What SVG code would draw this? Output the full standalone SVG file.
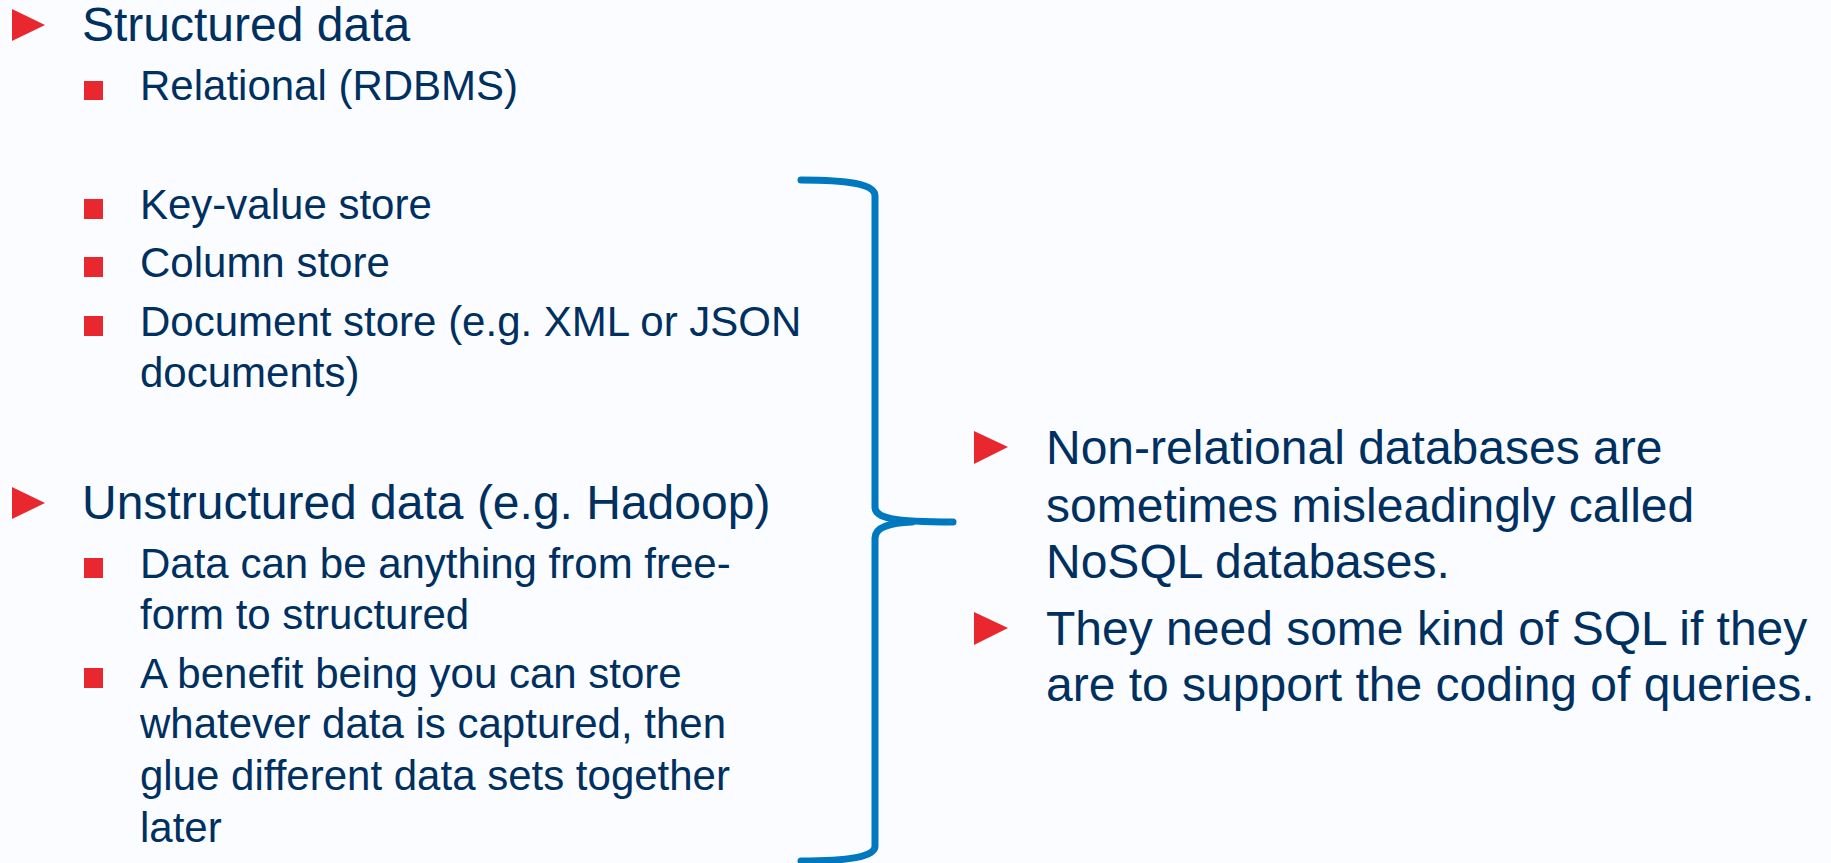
<svg xmlns="http://www.w3.org/2000/svg" width="1831" height="863" viewBox="0 0 1831 863">
  <defs>
    <style>
      .t1 { font-family: "Liberation Sans", Arial, sans-serif; font-size: 48px; fill: #00305F; }
      .t2 { font-family: "Liberation Sans", Arial, sans-serif; font-size: 42px; fill: #00305F; }
      .tri { fill: #E8282E; }
      .sq { fill: #E8282E; }
      .brace { fill: none; stroke: #0078BF; stroke-width: 7; stroke-linecap: round; stroke-linejoin: round; }
    </style>
  </defs>
  <rect x="0" y="0" width="1831" height="863" fill="#FAFCFF"/>

  <g id="structured">
    <polygon class="tri" points="12,9 12,41 45,25"/>
    <text class="t1" x="82" y="41">Structured data</text>
    <rect class="sq" x="84" y="81" width="19" height="19"/>
    <text class="t2" x="140" y="100">Relational (RDBMS)</text>
  </g>

  <g id="nonrelational-types">
    <rect class="sq" x="84" y="199" width="19" height="20"/>
    <text class="t2" x="140" y="219">Key-value store</text>
    <rect class="sq" x="84" y="257" width="19" height="20"/>
    <text class="t2" x="140" y="277">Column store</text>
    <rect class="sq" x="84" y="316" width="19" height="20"/>
    <text class="t2" x="140" y="336">Document store (e.g. XML or JSON</text>
    <text class="t2" x="140" y="387">documents)</text>
  </g>

  <g id="unstructured">
    <polygon class="tri" points="12,487 12,519 45,503"/>
    <text class="t1" x="82" y="519">Unstructured data (e.g. Hadoop)</text>
    <rect class="sq" x="84" y="558" width="19" height="20"/>
    <text class="t2" x="140" y="578">Data can be anything from free-</text>
    <text class="t2" x="140" y="629">form to structured</text>
    <rect class="sq" x="84" y="668" width="19" height="20"/>
    <text class="t2" x="140" y="688">A benefit being you can store</text>
    <text class="t2" x="140" y="738">whatever data is captured, then</text>
    <text class="t2" x="140" y="790">glue different data sets together</text>
    <text class="t2" x="140" y="842">later</text>
  </g>

  <g id="connectors">
    <path class="brace" d="M801,180 C848,180 875,184 875,196 L875,507 C875,518 892,522 953,522"/>
    <path class="brace" d="M912,522 C890,523 875,527 875,538 L875,846 C875,857 848,861 801,861"/>
  </g>

  <g id="note">
    <polygon class="tri" points="974,431 974,464 1008,447"/>
    <text class="t1" x="1046" y="464">Non-relational databases are</text>
    <text class="t1" x="1046" y="522">sometimes misleadingly called</text>
    <text class="t1" x="1046" y="578">NoSQL databases.</text>
    <polygon class="tri" points="974,612 974,645 1008,628"/>
    <text class="t1" x="1046" y="645">They need some kind of SQL if they</text>
    <text class="t1" x="1046" y="701">are to support the coding of queries.</text>
  </g>
</svg>
